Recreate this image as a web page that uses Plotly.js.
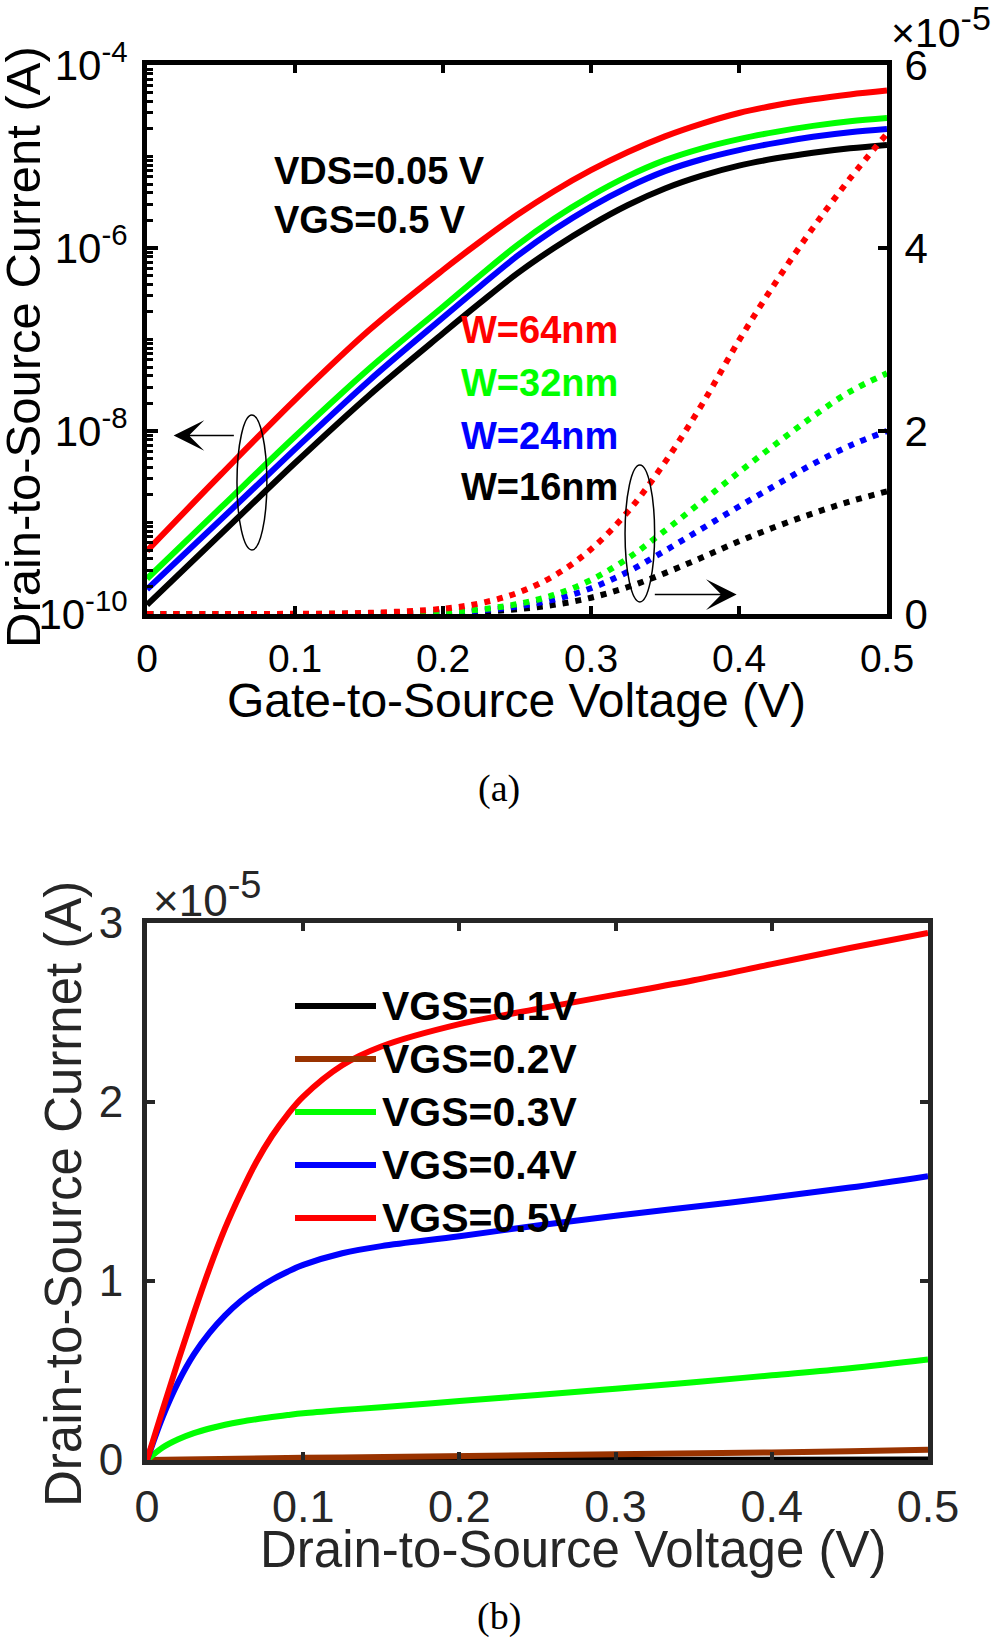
<!DOCTYPE html>
<html><head><meta charset="utf-8">
<script src="https://cdn.plot.ly/plotly-3.0.1.min.js"></script>
<style>html,body{margin:0;padding:0;background:#fff}</style>
</head><body>
<div id="chart" style="width:1000px;height:1637px"></div>
<script>
// ---------- (a) Id-Vgs, VDS = 0.05 V ----------
const vgs = [0, 0.05, 0.1, 0.15, 0.2, 0.225, 0.25, 0.275, 0.3, 0.325, 0.35, 0.375, 0.4, 0.425, 0.45, 0.475, 0.5];
const widthNames = ['W=16nm', 'W=24nm', 'W=32nm', 'W=64nm'];
const widthColors = ['#000000', '#0000ff', '#00ff00', '#ff0000'];
const id_w16 = [1.26e-10, 7.5e-10, 4.47e-9, 2.45e-8, 1.17e-7, 2.51e-7, 5.25e-7, 1.0e-6, 1.78e-6, 2.95e-6, 4.47e-6, 6.17e-6, 7.94e-6, 9.55e-6, 1.10e-5, 1.23e-5, 1.34e-5];
const id_w24 = [1.86e-10, 1.08e-9, 6.34e-9, 3.55e-8, 1.74e-7, 3.80e-7, 8.13e-7, 1.58e-6, 2.82e-6, 4.62e-6, 6.92e-6, 9.33e-6, 1.175e-5, 1.41e-5, 1.64e-5, 1.84e-5, 2.0e-5];
const id_w32 = [2.43e-10, 1.46e-9, 8.71e-9, 4.79e-8, 2.28e-7, 5.01e-7, 1.07e-6, 2.09e-6, 3.72e-6, 6.10e-6, 9.12e-6, 1.23e-5, 1.55e-5, 1.86e-5, 2.16e-5, 2.43e-5, 2.63e-5];
const id_w64 = [4.9e-10, 3.35e-9, 2.19e-8, 1.26e-7, 5.75e-7, 1.17e-6, 2.29e-6, 4.17e-6, 7.08e-6, 1.12e-5, 1.66e-5, 2.29e-5, 2.99e-5, 3.63e-5, 4.22e-5, 4.76e-5, 5.25e-5];
const logTickVals = [1e-10, 1e-8, 1e-6, 1e-4];
const logTickText = ['10<sup>-10</sup>', '10<sup>-8</sup>', '10<sup>-6</sup>', '10<sup>-4</sup>'];
const linTickVals = [0, 2e-5, 4e-5, 6e-5];
const linTickText = ['0', '2', '4', '6'];

// ---------- (b) Id-Vds ----------
const vds = [0, 0.01, 0.02, 0.03, 0.04, 0.05, 0.06, 0.07, 0.08, 0.09, 0.1, 0.125, 0.15, 0.2, 0.25, 0.3, 0.35, 0.4, 0.45, 0.5];
const vgsNames = ['VGS=0.1V', 'VGS=0.2V', 'VGS=0.3V', 'VGS=0.4V', 'VGS=0.5V'];
const vgsColors = ['#000000', '#993300', '#00ff00', '#0000ff', '#ff0000'];
const id_vgs01 = [0, 0.0001e-5, 0.0002e-5, 0.0003e-5, 0.0004e-5, 0.0004e-5, 0.0005e-5, 0.0005e-5, 0.0006e-5, 0.0006e-5, 0.0007e-5, 0.0008e-5, 0.0009e-5, 0.0011e-5, 0.0013e-5, 0.0015e-5, 0.0017e-5, 0.0019e-5, 0.0021e-5, 0.0024e-5];
const id_vgs02 = [0, 0.002e-5, 0.004e-5, 0.005e-5, 0.006e-5, 0.007e-5, 0.008e-5, 0.009e-5, 0.010e-5, 0.011e-5, 0.012e-5, 0.014e-5, 0.016e-5, 0.021e-5, 0.026e-5, 0.031e-5, 0.036e-5, 0.042e-5, 0.049e-5, 0.057e-5];
const id_vgs03 = [0, 0.07e-5, 0.116e-5, 0.15e-5, 0.176e-5, 0.197e-5, 0.214e-5, 0.228e-5, 0.24e-5, 0.251e-5, 0.261e-5, 0.279e-5, 0.295e-5, 0.329e-5, 0.363e-5, 0.398e-5, 0.435e-5, 0.473e-5, 0.512e-5, 0.561e-5];
const id_vgs04 = [0, 0.24e-5, 0.435e-5, 0.59e-5, 0.71e-5, 0.808e-5, 0.888e-5, 0.953e-5, 1.007e-5, 1.052e-5, 1.09e-5, 1.155e-5, 1.195e-5, 1.25e-5, 1.31e-5, 1.365e-5, 1.415e-5, 1.466e-5, 1.522e-5, 1.586e-5];
const id_vgs05 = [0, 0.28e-5, 0.555e-5, 0.82e-5, 1.07e-5, 1.295e-5, 1.49e-5, 1.665e-5, 1.81e-5, 1.93e-5, 2.03e-5, 2.205e-5, 2.31e-5, 2.435e-5, 2.52e-5, 2.60e-5, 2.68e-5, 2.77e-5, 2.86e-5, 2.945e-5];
const linTickVals3 = [0, 1e-5, 2e-5, 3e-5];
const linTickText3 = ['0', '1', '2', '3'];

const FONT = 'Liberation Sans, Arial, Helvetica, sans-serif';
const SERIF = 'Liberation Serif, Times New Roman, serif';
const H = 1637, W = 1000;
const px = v => v / W;          // paper x from a pixel column
const py = v => 1 - v / H;      // paper y from a pixel row

const widthSeries = [id_w16, id_w24, id_w32, id_w64];
const vgsSeries = [id_vgs01, id_vgs02, id_vgs03, id_vgs04, id_vgs05];

const traces = [];
// solid lines, log scale (left axis)
widthSeries.forEach((s, i) => traces.push({
  x: vgs, y: s, xaxis: 'x', yaxis: 'y', type: 'scatter', mode: 'lines', name: widthNames[i],
  line: {color: widthColors[i], width: 6, shape: 'spline', smoothing: 1}, hoverinfo: 'skip'
}));
// dotted lines, linear scale (right axis)
widthSeries.forEach((s, i) => traces.push({
  x: vgs, y: s, xaxis: 'x', yaxis: 'y2', type: 'scatter', mode: 'lines', name: widthNames[i] + ' (lin)',
  line: {color: widthColors[i], width: 6, dash: '6px,7px', shape: 'spline', smoothing: 1}, hoverinfo: 'skip'
}));
// (b)
vgsSeries.forEach((s, i) => traces.push({
  x: vds, y: s, xaxis: 'x2', yaxis: 'y3', type: 'scatter', mode: 'lines', name: vgsNames[i],
  line: {color: vgsColors[i], width: 6, shape: i >= 2 ? 'spline' : 'linear', smoothing: 1}, hoverinfo: 'skip'
}));

// minor ticks of the log axis (integer multiples inside each decade)
const minorVals = [];
for (let d = -10; d < -4; d++) {
  for (let k = 1; k <= 9; k++) {
    if (!(k === 1 && d % 2 === 0)) minorVals.push(k * Math.pow(10, d));
  }
}

const cA = '#000000';
const cB = '#262626';

const layout = {
  width: W, height: H,
  margin: {l: 0, r: 0, t: 0, b: 0},
  paper_bgcolor: '#ffffff', plot_bgcolor: '#ffffff',
  showlegend: false,
  font: {family: FONT, color: '#000'},
  xaxis: {
    domain: [0.147, 0.887], anchor: 'y', range: [0, 0.5], tickvals: [0, 0.1, 0.2, 0.3, 0.4, 0.5],
    ticktext: ['0', '0.1', '0.2', '0.3', '0.4', '0.5'],
    ticks: 'inside', ticklen: 8, tickwidth: 4, tickcolor: cA,
    showline: true, linewidth: 5, linecolor: cA, mirror: 'ticks',
    showgrid: false, zeroline: false, tickfont: {size: 39, family: FONT, color: cA},
    ticklabelstandoff: 6
  },
  yaxis: {
    domain: [py(614), py(65)], anchor: 'x', type: 'log', range: [-10, -4],
    tickmode: 'array', tickvals: logTickVals, ticktext: logTickText,
    ticks: 'inside', ticklen: 11, tickwidth: 4, tickcolor: cA,
    minor: {tickmode: 'array', tickvals: minorVals, ticks: 'inside', ticklen: 6, tickwidth: 3, tickcolor: cA, showgrid: false},
    showline: true, linewidth: 5, linecolor: cA, mirror: false,
    showgrid: false, zeroline: false, tickfont: {size: 42, family: FONT, color: cA},
    ticklabelstandoff: 6
  },
  yaxis2: {
    overlaying: 'y', side: 'right', anchor: 'x', range: [0, 6e-5],
    tickmode: 'array', tickvals: linTickVals, ticktext: linTickText,
    ticks: 'inside', ticklen: 9, tickwidth: 4, tickcolor: cA,
    showline: true, linewidth: 5, linecolor: cA,
    showgrid: false, zeroline: false, tickfont: {size: 42, family: FONT, color: cA},
    ticklabelstandoff: 4
  },
  xaxis2: {
    domain: [0.147, 0.928], anchor: 'y3', range: [0, 0.5], tickvals: [0, 0.1, 0.2, 0.3, 0.4, 0.5],
    ticktext: ['0', '0.1', '0.2', '0.3', '0.4', '0.5'],
    ticks: 'inside', ticklen: 8, tickwidth: 4, tickcolor: cB,
    showline: true, linewidth: 5, linecolor: cB, mirror: 'ticks',
    showgrid: false, zeroline: false, tickfont: {size: 45, family: FONT, color: cB},
    ticklabelstandoff: 3
  },
  yaxis3: {
    domain: [py(1460), py(923)], anchor: 'x2', range: [0, 3e-5],
    tickmode: 'array', tickvals: linTickVals3, ticktext: linTickText3,
    ticks: 'inside', ticklen: 8, tickwidth: 4, tickcolor: cB,
    showline: true, linewidth: 5, linecolor: cB, mirror: 'ticks',
    showgrid: false, zeroline: false, tickfont: {size: 44, family: FONT, color: cB},
    ticklabelstandoff: 10
  },
  shapes: [
    {type: 'circle', xref: 'x', yref: 'y2', x0: 0.0608, x1: 0.081, y0: 0.70e-5, y1: 2.175e-5, line: {color: '#000', width: 1.5}},
    {type: 'circle', xref: 'x', yref: 'y2', x0: 0.323, x1: 0.343, y0: 0.131e-5, y1: 1.628e-5, line: {color: '#000', width: 1.5}}
  ],
  annotations: [
    // axis titles
    {text: 'Drain-to-Source Current (A)', xref: 'paper', yref: 'paper', x: px(23), y: py(347), textangle: -90,
     showarrow: false, xanchor: 'center', yanchor: 'middle', font: {size: 49, family: FONT, color: '#000'}},
    {text: 'Gate-to-Source Voltage (V)', xref: 'paper', yref: 'paper', x: px(516), y: py(700),
     showarrow: false, xanchor: 'center', yanchor: 'middle', font: {size: 48, family: FONT, color: '#000'}},
    {text: 'Drain-to-Source Currnet (A)', xref: 'paper', yref: 'paper', x: px(63), y: py(1194), textangle: -90,
     showarrow: false, xanchor: 'center', yanchor: 'middle', font: {size: 51, family: FONT, color: cB}},
    {text: 'Drain-to-Source Voltage (V)', xref: 'paper', yref: 'paper', x: px(573), y: py(1549),
     showarrow: false, xanchor: 'center', yanchor: 'middle', font: {size: 51, family: FONT, color: cB}},
    // exponent labels
    {text: '\u00d710<sup><span style="font-size:34px">-5</span></sup>', xref: 'paper', yref: 'paper', x: px(889), y: py(28),
     showarrow: false, xanchor: 'left', yanchor: 'middle', font: {size: 41, family: FONT, color: '#000'}},
    {text: '\u00d710<sup><span style="font-size:38px">-5</span></sup>', xref: 'paper', yref: 'paper', x: px(151), y: py(895),
     showarrow: false, xanchor: 'left', yanchor: 'middle', font: {size: 44, family: FONT, color: cB}},
    // panel labels
    {text: '(a)', xref: 'paper', yref: 'paper', x: px(499), y: py(788), showarrow: false,
     xanchor: 'center', yanchor: 'middle', font: {size: 38, family: SERIF, color: '#000'}},
    {text: '(b)', xref: 'paper', yref: 'paper', x: px(499), y: py(1616), showarrow: false,
     xanchor: 'center', yanchor: 'middle', font: {size: 38, family: SERIF, color: '#000'}},
    // condition labels
    {text: 'VDS=0.05 V', xref: 'paper', yref: 'paper', x: px(272), y: py(171), showarrow: false,
     xanchor: 'left', yanchor: 'middle', font: {size: 38, family: FONT, color: '#000', weight: 700}},
    {text: 'VGS=0.5 V', xref: 'paper', yref: 'paper', x: px(272), y: py(220), showarrow: false,
     xanchor: 'left', yanchor: 'middle', font: {size: 38, family: FONT, color: '#000', weight: 700}},
    // arrows
    {xref: 'x', yref: 'y2', axref: 'x', ayref: 'y2', x: 0.018, y: 1.951e-5, ax: 0.0597, ay: 1.951e-5, text: '',
     showarrow: true, arrowhead: 3, arrowsize: 3.4, arrowwidth: 1.5, arrowcolor: '#000', standoff: 0},
    {xref: 'x', yref: 'y2', axref: 'x', ayref: 'y2', x: 0.3984, y: 0.212e-5, ax: 0.3421, ay: 0.212e-5, text: '',
     showarrow: true, arrowhead: 3, arrowsize: 3.4, arrowwidth: 1.5, arrowcolor: '#000', standoff: 0}
  ]
};

// width labels (top panel), from the series names/colours
const wLabelY = [487, 436, 383, 330];
widthNames.forEach((n, i) => layout.annotations.push({
  text: n, xref: 'paper', yref: 'paper', x: px(459), y: py(wLabelY[i]), showarrow: false,
  xanchor: 'left', yanchor: 'middle', font: {size: 38, family: FONT, color: widthColors[i], weight: 700}
}));

// legend of panel (b): line samples + bold text drawn over the curves
const legY = [1006, 1059, 1112, 1165, 1218];
vgsNames.forEach((n, i) => {
  layout.shapes.push({type: 'line', xref: 'paper', yref: 'paper', x0: px(295), x1: px(376), y0: py(legY[i]), y1: py(legY[i]),
    line: {color: vgsColors[i], width: 6}, layer: 'above'});
  layout.annotations.push({text: n, xref: 'paper', yref: 'paper', x: px(380), y: py(legY[i]), showarrow: false,
    xanchor: 'left', yanchor: 'middle', font: {size: 41, family: FONT, color: '#000', weight: 700}});
});

Plotly.newPlot('chart', traces, layout, {displayModeBar: false, staticPlot: true});
</script>
</body></html>
